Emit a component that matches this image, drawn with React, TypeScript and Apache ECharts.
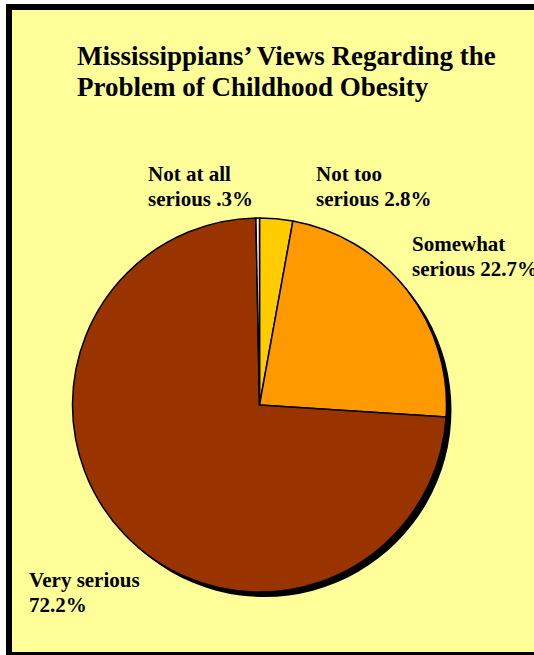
import React, { useEffect, useRef } from "react";
import * as echarts from "echarts";

// Survey responses, in the order the slices run clockwise from 12 o'clock
const categories = ["Not too serious", "Somewhat serious", "Very serious", "Not at all serious"];
const percents = [2.8, 22.7, 72.2, 0.3];
const labelHeads = ["Not too", "Somewhat", "Very serious", "Not at all"];
const labelTails = ["serious", "serious", "", "serious"];
const sliceColors = ["#FFCC00", "#FF9900", "#993300", "#FFFFFF"];

const titleLines = ["Mississippians\u2019 Views Regarding the", "Problem of Childhood Obesity"];

const FONT = "'Liberation Serif', 'Times New Roman', serif";

const pctText = (v: number) => (v < 1 ? String(v).replace(/^0/, "") : v.toFixed(1)) + "%";

// Top-left anchor for each slice's label block
const labelAnchors: [number, number][] = [
  [316, 161],
  [412, 231],
  [29, 567],
  [148, 161],
];

export default function App() {
  const ref = useRef<HTMLDivElement>(null);

  useEffect(() => {
    if (!ref.current) return;
    const chart = echarts.init(ref.current, null, { renderer: "svg" });
    const center: [number, number] = [259.5, 405];
    const radius = 187;

    chart.setOption({
      animation: false,
      backgroundColor: "#FFFFFF",
      graphic: [
        {
          type: "rect",
          z: -10,
          shape: { x: 9, y: 7, width: 540, height: 648 },
          style: { fill: "#FFFF99", stroke: "#000000", lineWidth: 6 },
          silent: true,
        },
      ],
      title: {
        text: titleLines.join("\n"),
        left: 77,
        top: 40,
        padding: 0,
        textStyle: {
          fontFamily: FONT,
          fontSize: 27,
          fontWeight: "bold",
          color: "#000000",
          lineHeight: 31,
        },
      },
      series: [
        {
          // drop shadow under the pie
          type: "pie",
          silent: true,
          center: [center[0] + 5, center[1] + 5],
          radius: radius,
          z: 1,
          label: { show: false },
          labelLine: { show: false },
          itemStyle: { color: "#000000" },
          data: [{ value: 1, name: "shadow" }],
        },
        {
          type: "pie",
          z: 2,
          center,
          radius,
          startAngle: 90,
          clockwise: true,
          itemStyle: { borderColor: "#000000", borderWidth: 1.5 },
          label: {
            show: true,
            position: "outside",
            overflow: "none",
            width: 200,
            fontFamily: FONT,
            fontSize: 21,
            fontWeight: "bold",
            color: "#000000",
            lineHeight: 25,
            formatter: (p: any) => {
              const i = p.dataIndex;
              const tail = labelTails[i] ? labelTails[i] + " " : "";
              return labelHeads[i] + "\n" + tail + pctText(percents[i]);
            },
          },
          labelLine: { show: false },
          labelLayout: (p: any) => ({
            x: labelAnchors[p.dataIndex][0],
            y: labelAnchors[p.dataIndex][1],
            align: "left",
            verticalAlign: "top",
            hideOverlap: false,
            moveOverlap: null,
          }),
          data: categories.map((name, i) => ({
            name,
            value: percents[i],
            itemStyle: { color: sliceColors[i] },
          })),
        },
      ],
    });

    return () => chart.dispose();
  }, []);

  return (
    <div
      ref={ref}
      style={{ position: "absolute", left: 0, top: 0, width: 534, height: 655 }}
    />
  );
}
